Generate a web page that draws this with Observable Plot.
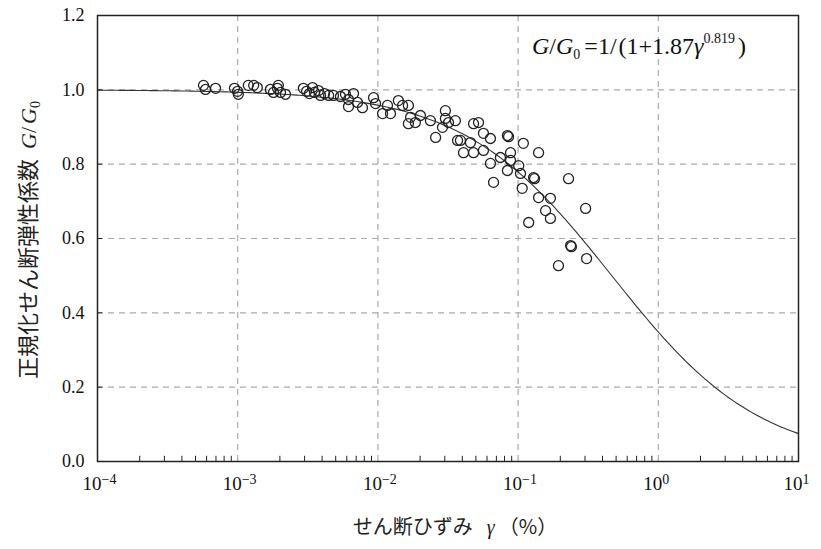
<!DOCTYPE html>
<html><head><meta charset="utf-8">
<script src="https://cdn.jsdelivr.net/npm/d3@7"></script>
<script src="https://cdn.jsdelivr.net/npm/@observablehq/plot@0.6"></script>
<style>body{margin:0;background:#fff} svg{display:block}</style>
</head><body><div id="chart"></div>
<script>
// Shear strain γ (%) of each test point
const gamma = [5.70e-4,5.89e-4,6.95e-4,9.48e-4,9.98e-4,1.01e-3,1.19e-3,1.30e-3,1.38e-3,1.71e-3,
  1.80e-3,1.92e-3,1.95e-3,2.02e-3,2.19e-3,2.94e-3,3.10e-3,3.25e-3,3.42e-3,3.53e-3,
  3.77e-3,3.90e-3,4.16e-3,4.45e-3,4.82e-3,5.41e-3,5.87e-3,6.17e-3,6.70e-3,6.17e-3,
  7.16e-3,7.76e-3,9.31e-3,9.62e-3,1.08e-2,1.17e-2,1.23e-2,1.40e-2,1.50e-2,1.65e-2,
  1.71e-2,1.65e-2,1.85e-2,2.01e-2,2.37e-2,3.03e-2,3.03e-2,2.89e-2,2.58e-2,3.70e-2,
  3.57e-2,3.19e-2,4.81e-2,5.22e-2,5.66e-2,6.35e-2,3.88e-2,4.57e-2,4.08e-2,4.81e-2,
  5.66e-2,8.39e-2,8.55e-2,0.109,0.140,8.83e-2,7.48e-2,6.35e-2,8.39e-2,0.101,
  0.104,0.129,0.131,6.68e-2,0.107,0.229,0.140,0.170,0.157,0.170,
  0.119,0.303,0.237,0.240,0.308,0.194,8.83e-2];
// Normalized shear modulus G/G0 of each test point
const ratio = [1.012,1.001,1.004,1.004,0.996,0.988,1.012,1.012,1.006,1.001,
  0.993,1.004,1.012,0.993,0.988,1.004,0.996,0.990,1.006,0.993,
  0.998,0.985,0.990,0.985,0.985,0.982,0.988,0.974,0.990,0.955,
  0.966,0.952,0.979,0.963,0.936,0.958,0.936,0.971,0.958,0.958,
  0.926,0.909,0.912,0.931,0.917,0.944,0.923,0.899,0.872,0.864,
  0.917,0.912,0.909,0.912,0.883,0.869,0.864,0.858,0.831,0.831,
  0.837,0.877,0.874,0.856,0.831,0.831,0.818,0.802,0.783,0.796,
  0.775,0.764,0.761,0.751,0.735,0.761,0.710,0.708,0.675,0.654,
  0.643,0.681,0.581,0.578,0.546,0.527,0.810];

const xTicks = [1e-4, 1e-3, 1e-2, 1e-1, 1, 10];
const xTickExponents = ["-4", "-3", "-2", "-1", "0", "1"];
const yTicks = [0, 0.2, 0.4, 0.6, 0.8, 1.0, 1.2];
const fitA = 1.87, fitB = 0.819;   // G/G0 = 1/(1 + 1.87 γ^0.819)
const xLabelText = "せん断ひずみ";
const yLabelText = "正規化せん断弾性係数";

const points = gamma.map((g, i) => ({gamma: g, ratio: ratio[i]}));
const curve = d3.range(-4, 1.0001, 0.02).map(e => 10 ** e).map(g => ({gamma: g, ratio: 1 / (1 + fitA * g ** fitB)}));
const minor = [];
for (let e = -4; e < 1; e++) for (let m = 2; m <= 9; m++) minor.push(m * 10 ** e);

const chart = Plot.plot({
  width: 821, height: 549,
  marginLeft: 97, marginRight: 23, marginTop: 15, marginBottom: 88,
  style: {fontFamily: "'Liberation Serif', 'DejaVu Serif', serif", fontSize: "18px", color: "#111", background: "white"},
  x: {type: "log", domain: [1e-4, 10], ticks: xTicks, tickSize: 0, tickPadding: 15,
      tickFormat: d => xTickExponents[xTicks.findIndex(t => Math.abs(t - d) / t < 1e-6)], label: null},
  y: {domain: [0, 1.2], ticks: yTicks, tickSize: 0, tickPadding: 13, tickFormat: d => d.toFixed(1), label: null},
  marks: [
    Plot.gridX(xTicks.slice(1, -1), {stroke: "#aaa", strokeOpacity: 1, strokeWidth: 1.2, strokeDasharray: "6,5"}),
    Plot.gridY(yTicks.slice(1), {stroke: "#aaa", strokeOpacity: 1, strokeWidth: 1.2, strokeDasharray: "6,5"}),
    Plot.ruleX(minor, {y1: 0, y2: 0.014, stroke: "#222"}),
    Plot.ruleY(yTicks, {x1: 1e-4, x2: 1.09e-4, stroke: "#222"}),
    Plot.line(curve, {x: "gamma", y: "ratio", stroke: "#333", strokeWidth: 1.1}),
    Plot.dot(points, {x: "gamma", y: "ratio", r: 5, stroke: "#222", strokeWidth: 1.3, fill: "none"}),
    Plot.frame({stroke: "#222", strokeWidth: 1.5})
  ]
});
document.getElementById("chart").append(chart);

const svg = d3.select(chart);
// x tick labels as 10^n
svg.selectAll('g[aria-label="x-axis tick label"] text').each(function() {
  const t = d3.select(this);
  const exp = t.text();
  t.text("").attr("text-anchor", "start").attr("dx", -15).attr("font-size", 19);
  t.append("tspan").text("10");
  t.append("tspan").attr("dy", "-0.45em").attr("font-size", "14px").text(exp.replace("-", "\u2212"));
});

// x axis label
const xl = svg.append("text").attr("x", 455).attr("y", 534).attr("text-anchor", "middle")
  .attr("font-size", 20).attr("fill", "#222");
xl.append("tspan").attr("font-family", "'Noto Sans CJK JP', sans-serif").text(xLabelText);
xl.append("tspan").attr("font-family", "'Liberation Serif', serif").attr("font-style", "italic").attr("dx", 14).text("γ");
xl.append("tspan").attr("font-family", "'Noto Sans CJK JP', sans-serif").attr("dx", 4).text("（%）");

// y axis label
const yl = svg.append("text").attr("transform", "translate(36,240) rotate(-90)").attr("text-anchor", "middle")
  .attr("font-size", 22).attr("fill", "#222");
yl.append("tspan").attr("font-family", "'Noto Sans CJK JP', sans-serif").text(yLabelText);
yl.append("tspan").attr("font-family", "'Liberation Serif', serif").attr("font-style", "italic").attr("dx", 10).text("G");
yl.append("tspan").attr("font-family", "'Liberation Serif', serif").text("/");
yl.append("tspan").attr("font-family", "'Liberation Serif', serif").attr("font-style", "italic").attr("dx", 3).text("G");
yl.append("tspan").attr("font-family", "'Liberation Serif', serif").attr("font-size", 14).attr("dy", 4).text("0");

// formula
const f = svg.append("text").attr("x", 532).attr("y", 54).attr("font-size", 24).attr("text-anchor", "start")
  .attr("font-family", "'Liberation Serif', serif").attr("fill", "#111");
f.append("tspan").attr("font-style", "italic").text("G");
f.append("tspan").text("/");
f.append("tspan").attr("font-style", "italic").text("G");
f.append("tspan").attr("font-size", 14).attr("dy", 5).text("0");
f.append("tspan").attr("dy", -5).attr("dx", 4).text("=1/");
f.append("tspan").attr("dx", 2).text("(1+" + fitA);
f.append("tspan").attr("font-style", "italic").text("γ");
f.append("tspan").attr("font-size", 14).attr("dy", -11).text(String(fitB));
f.append("tspan").attr("dy", 11).attr("dx", 3).text(")");
</script>
</body></html>
